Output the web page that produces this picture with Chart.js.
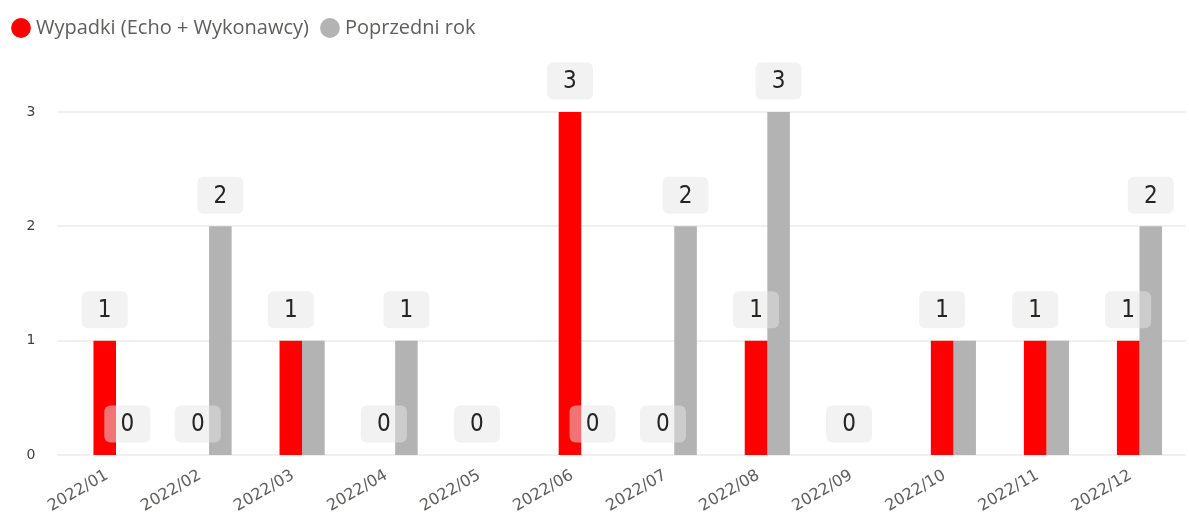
<!DOCTYPE html>
<html>
<head>
  <title>Wypadki 2022</title>
  <script src="https://cdn.jsdelivr.net/npm/chart.js"></script>
  <style>
    html, body { margin: 0; padding: 0; background: #fff; }
    #wrap { width: 1189px; height: 520px; position: relative; }
  </style>
</head>
<body>
  <div id="wrap"><canvas id="chart"></canvas></div>

  <script>
    const months = ["2022/01", "2022/02", "2022/03", "2022/04", "2022/05", "2022/06",
                    "2022/07", "2022/08", "2022/09", "2022/10", "2022/11", "2022/12"];
    const wypadki = [1, 0, 1, 0, 0, 3, 0, 1, 0, 1, 1, 1];
    const poprzedniRok = [0, 2, 1, 1, 0, 0, 2, 3, 0, 1, 1, 2];
    const yTicks = [0, 1, 2, 3];

    const ctx = document.getElementById("chart").getContext("2d");

    // legend is given extra height so the plot starts lower, like in Power BI
    const legendSpace = {
      id: "legendSpace",
      beforeInit(chart) {
        const fit = chart.legend.fit;
        chart.legend.fit = function () {
          fit.bind(chart.legend)();
          this.height = 110;
        };
      }
    };

    // horizontal grid lines, starting a bit left of the plot area
    const gridLines = {
      id: "gridLines",
      beforeDatasetsDraw(chart) {
        const y = chart.scales.y, area = chart.chartArea, c = chart.ctx;
        c.save();
        c.strokeStyle = "#F0F0F0";
        c.lineWidth = 2;
        yTicks.forEach(v => {
          const py = Math.round(y.getPixelForValue(v));
          c.beginPath();
          c.moveTo(area.left - 12, py);
          c.lineTo(area.right, py);
          c.stroke();
        });
        c.restore();
      }
    };

    // value labels in rounded boxes, hidden when they would overlap another label
    const valueLabels = {
      id: "valueLabels",
      afterDatasetsDraw(chart) {
        const c = chart.ctx;
        const placed = [];
        const w = 46, h = 37;
        chart.data.datasets.forEach((ds, i) => {
          chart.getDatasetMeta(i).data.forEach((bar, j) => {
            const cx = bar.x, cy = bar.y - 31;
            const box = { x: cx - w / 2, y: cy - h / 2, w, h };
            const hit = placed.some(p => box.x < p.x + p.w && p.x < box.x + box.w &&
                                         box.y < p.y + p.h && p.y < box.y + box.h);
            if (hit) return;
            placed.push(box);
            c.save();
            c.fillStyle = "rgba(230,230,230,0.5)";
            c.beginPath();
            c.roundRect(box.x, box.y, w, h, 6);
            c.fill();
            c.fillStyle = "#252423";
            c.font = "24px 'Liberation Sans Narrow', 'DejaVu Sans Condensed', sans-serif";
            c.textAlign = "center";
            c.textBaseline = "middle";
            c.fillText(String(ds.data[j]), cx, cy + 1);
            c.restore();
          });
        });
      }
    };

    new Chart(ctx, {
      type: "bar",
      data: {
        labels: months,
        datasets: [
          {
            label: "Wypadki (Echo + Wykonawcy)",
            data: wypadki,
            backgroundColor: "#FF0000",
            borderWidth: 0,
            categoryPercentage: 0.485,
            barPercentage: 1
          },
          {
            label: "Poprzedni rok",
            data: poprzedniRok,
            backgroundColor: "#B3B3B3",
            borderWidth: 0,
            categoryPercentage: 0.485,
            barPercentage: 1
          }
        ]
      },
      options: {
        responsive: true,
        maintainAspectRatio: false,
        animation: false,
        events: [],
        layout: { padding: { top: 2, right: 3, bottom: 0, left: 0 } },
        plugins: {
          tooltip: { enabled: false },
          legend: {
            position: "top",
            align: "start",
            labels: {
              usePointStyle: true,
              pointStyle: "circle",
              boxWidth: 10,
              boxHeight: 14,
              padding: 16,
              color: "#605E5C",
              font: { family: "'Open Sans', sans-serif", size: 20 }
            }
          }
        },
        scales: {
          x: {
            offset: true,
            grid: { display: false },
            border: { display: false },
            ticks: {
              autoSkip: false,
              minRotation: 30,
              maxRotation: 30,
              labelOffset: -9,
              color: "#605E5C",
              font: { family: "'DejaVu Sans', sans-serif", size: 16 }
            },
            afterFit(scale) { scale.height = 65; }
          },
          y: {
            min: 0,
            max: 3,
            grid: { display: false, drawTicks: false },
            border: { display: false },
            ticks: {
              stepSize: 1,
              padding: 34,
              color: "#3F3F3F",
              font: { family: "'DejaVu Sans', sans-serif", size: 14 }
            },
            afterFit(scale) { scale.width = 69.5; }
          }
        }
      },
      plugins: [legendSpace, gridLines, valueLabels]
    });
  </script>
</body>
</html>
